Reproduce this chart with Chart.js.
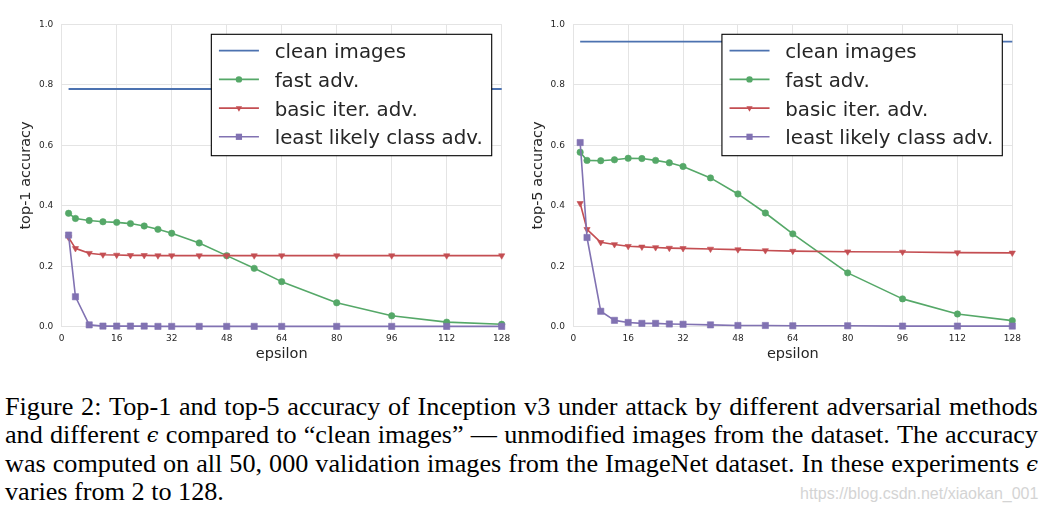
<!DOCTYPE html>
<html>
<head>
<meta charset="utf-8">
<script src="https://cdn.jsdelivr.net/npm/chart.js@4/dist/chart.umd.min.js"></script>
<style>
  html, body { margin: 0; padding: 0; background: #fff; }
  body { width: 1044px; height: 514px; position: relative; overflow: hidden; }
  canvas { position: absolute; top: 0; }
  #c1 { left: 0; }
  #c2 { left: 520px; }
  .cap { position: absolute; left: 5px; width: 1033px; font-family: "Liberation Serif", "Times New Roman", serif;
         font-size: 26.2px; line-height: 28.5px; color: #000; white-space: nowrap; }
  .cap.j { display: flex; justify-content: space-between; }
  .eps { font-family: "DejaVu Serif", serif; font-style: italic; font-size: 0.8em; }
  #wm { position: absolute; left: 800px; top: 486px; font-family: "Liberation Sans", Arial, sans-serif;
        font-size: 16px; line-height: 16px; color: #d4d4d4; white-space: nowrap; }
</style>
</head>
<body>
<canvas id="c1" width="520" height="370" style="width:520px;height:370px"></canvas>
<canvas id="c2" width="524" height="370" style="width:524px;height:370px"></canvas>
<div id="caption"></div>
<div id="wm">https://blog.csdn.net/xiaokan_001</div>
<script>
// ---------------- data ----------------
const epsilon = [2, 4, 8, 12, 16, 20, 24, 28, 32, 40, 48, 56, 64, 80, 96, 112, 128];
const xTicks = [0, 16, 32, 48, 64, 80, 96, 112, 128];
const yTicks = [0.0, 0.2, 0.4, 0.6, 0.8, 1.0];
const seriesLabels = ["clean images", "fast adv.", "basic iter. adv.", "least likely class adv."];

const top1Clean = [0.786, 0.786, 0.786, 0.786, 0.786, 0.786, 0.786, 0.786, 0.786, 0.786, 0.786, 0.786, 0.786, 0.786, 0.786, 0.786, 0.786];
const top1Fast  = [0.375, 0.358, 0.351, 0.347, 0.345, 0.341, 0.333, 0.322, 0.309, 0.277, 0.235, 0.193, 0.149, 0.079, 0.036, 0.015, 0.008];
const top1Basic = [0.295, 0.259, 0.243, 0.238, 0.237, 0.236, 0.236, 0.235, 0.235, 0.235, 0.235, 0.235, 0.235, 0.235, 0.235, 0.235, 0.235];
const top1Least = [0.303, 0.099, 0.006, 0.002, 0.002, 0.002, 0.002, 0.001, 0.001, 0.001, 0.001, 0.001, 0.001, 0.001, 0.001, 0.001, 0.001];

const top5Clean = [0.943, 0.943, 0.943, 0.943, 0.943, 0.943, 0.943, 0.943, 0.943, 0.943, 0.943, 0.943, 0.943, 0.943, 0.943, 0.943, 0.943];
const top5Fast  = [0.577, 0.550, 0.549, 0.552, 0.557, 0.556, 0.550, 0.542, 0.530, 0.492, 0.439, 0.376, 0.307, 0.178, 0.092, 0.042, 0.020];
const top5Basic = [0.408, 0.322, 0.279, 0.272, 0.266, 0.264, 0.262, 0.260, 0.259, 0.257, 0.255, 0.252, 0.250, 0.248, 0.247, 0.245, 0.244];
const top5Least = [0.609, 0.295, 0.051, 0.021, 0.014, 0.011, 0.011, 0.009, 0.008, 0.006, 0.004, 0.004, 0.003, 0.003, 0.002, 0.002, 0.002];

const captionLines = [
  "Figure 2: Top-1 and top-5 accuracy of Inception v3 under attack by different adversarial methods",
  "and different \u03F5 compared to \u201Cclean images\u201D \u2014 unmodified images from the dataset. The accuracy",
  "was computed on all 50, 000 validation images from the ImageNet dataset. In these experiments \u03F5",
  "varies from 2 to 128."
];

// ---------------- style ----------------
const COLORS = ["#4C72B0", "#55A868", "#C44E52", "#8172B2"];
const GRID = "#e4e4e4";
const TXT = "#262626";
Chart.defaults.font.family = "'DejaVu Sans', sans-serif";
Chart.defaults.color = TXT;

function pts(values) { return epsilon.map((e, i) => ({ x: e, y: values[i] })); }

function markerPath(ctx, style, x, y, r) {
  ctx.beginPath();
  if (style === 'circle') {
    ctx.arc(x, y, r, 0, Math.PI * 2);
  } else if (style === 'triDown') {
    ctx.moveTo(x, y + r);
    ctx.lineTo(x - 0.866 * r, y - 0.5 * r);
    ctx.lineTo(x + 0.866 * r, y - 0.5 * r);
    ctx.closePath();
  } else if (style === 'rect') {
    const s = r * Math.SQRT1_2;
    ctx.rect(x - s, y - s, 2 * s, 2 * s);
  }
}

const boxLegend = {
  id: 'boxLegend',
  afterDraw(chart) {
    const ctx = chart.ctx, ca = chart.chartArea;
    ctx.save();
    ctx.font = "19.8px 'DejaVu Sans'";
    const dsets = chart.data.datasets;
    let maxW = 0;
    dsets.forEach(d => { maxW = Math.max(maxW, ctx.measureText(d.label).width); });
    const w = 63.3 + maxW + 9;
    const h = 121.4;
    const x0 = ca.right - 10 - w, y0 = ca.top + 10;
    ctx.fillStyle = '#fff';
    ctx.fillRect(x0, y0, w, h);
    ctx.strokeStyle = '#000';
    ctx.lineWidth = 1.1;
    ctx.strokeRect(x0, y0, w, h);
    dsets.forEach((d, i) => {
      const y = y0 + 16.4 + i * 28.7;
      ctx.strokeStyle = d.borderColor;
      ctx.lineWidth = d.borderWidth;
      ctx.beginPath();
      ctx.moveTo(x0 + 7.6, y);
      ctx.lineTo(x0 + 47.6, y);
      ctx.stroke();
      if (d.legendMarker) {
        markerPath(ctx, d.legendMarker, x0 + 27.6, y, d.pointRadius);
        ctx.fillStyle = d.borderColor;
        ctx.fill();
      }
      ctx.fillStyle = TXT;
      ctx.textBaseline = 'alphabetic';
      ctx.textAlign = 'left';
      ctx.fillText(d.label, x0 + 63.3, y + 7.4);
    });
    ctx.restore();
  }
};

function makeChart(id, yTitle, clean, fast, basic, least, lay) {
  const common = { fill: false, tension: 0, clip: false, borderWidth: 1.6 };
  return new Chart(document.getElementById(id), {
    type: 'line',
    data: {
      datasets: [
        Object.assign({}, common, { label: seriesLabels[0], data: pts(clean), borderColor: COLORS[0], backgroundColor: COLORS[0],
          pointRadius: 0, borderWidth: 1.8, order: 4 }),
        Object.assign({}, common, { label: seriesLabels[1], data: pts(fast), borderColor: COLORS[1], backgroundColor: COLORS[1],
          pointStyle: 'circle', pointRadius: 3.2, pointBorderWidth: 0.6, pointBackgroundColor: COLORS[1], pointBorderColor: COLORS[1],
          legendMarker: 'circle', order: 3 }),
        Object.assign({}, common, { label: seriesLabels[2], data: pts(basic), borderColor: COLORS[2], backgroundColor: COLORS[2],
          pointStyle: 'triangle', rotation: 180, pointRadius: 3.6, pointBorderWidth: 0.6, pointBackgroundColor: COLORS[2], pointBorderColor: COLORS[2],
          legendMarker: 'triDown', order: 2 }),
        Object.assign({}, common, { label: seriesLabels[3], data: pts(least), borderColor: COLORS[3], backgroundColor: COLORS[3],
          pointStyle: 'rect', pointRadius: 4.4, pointBorderWidth: 0.6, pointBackgroundColor: COLORS[3], pointBorderColor: COLORS[3],
          legendMarker: 'rect', order: 1 })
      ]
    },
    options: {
      responsive: false,
      animation: false,
      devicePixelRatio: window.devicePixelRatio || 1,
      layout: { padding: { left: 0, right: lay.right, top: 24.3, bottom: 0 } },
      plugins: { legend: { display: false }, tooltip: { enabled: false } },
      elements: { line: { borderJoinStyle: 'round' } },
      scales: {
        x: {
          type: 'linear', min: 0, max: 128,
          afterFit(s) { s.height = 43.3; },
          afterBuildTicks(s) { s.ticks = xTicks.map(v => ({ value: v })); },
          ticks: { font: { size: 9 }, color: TXT, padding: 7, maxRotation: 0, callback: v => String(v) },
          grid: { color: GRID, lineWidth: 1, drawTicks: false },
          border: { color: GRID, width: 1 },
          title: { display: true, text: 'epsilon', font: { size: 14.5 }, color: TXT, padding: { top: 0, bottom: 6.8 } }
        },
        y: {
          type: 'linear', min: 0, max: 1,
          afterFit(s) { s.width = lay.yWidth; },
          afterBuildTicks(s) { s.ticks = yTicks.map(v => ({ value: v })); },
          ticks: { font: { size: 9 }, color: TXT, padding: 8.4, callback: v => Number(v).toFixed(1) },
          grid: { color: GRID, lineWidth: 1, drawTicks: false },
          border: { color: GRID, width: 1 },
          title: { display: true, text: yTitle, font: { size: 14.5 }, color: TXT, padding: { top: lay.titlePad, bottom: 0 } }
        }
      }
    },
    plugins: [boxLegend]
  });
}

makeChart('c1', 'top-1 accuracy', top1Clean, top1Fast, top1Basic, top1Least, { right: 18.3, yWidth: 61.7, titlePad: 18 });
makeChart('c2', 'top-5 accuracy', top5Clean, top5Fast, top5Basic, top5Least, { right: 31.7, yWidth: 53.3, titlePad: 9.6 });

// ---------------- caption ----------------
const capEl = document.getElementById('caption');
captionLines.forEach((line, i) => {
  const div = document.createElement('div');
  div.className = 'cap' + (i < captionLines.length - 1 ? ' j' : '');
  div.style.top = (392.5 + i * 28.5) + 'px';
  const words = line.split(' ');
  if (i < captionLines.length - 1) {
    words.forEach(wd => {
      const sp = document.createElement('span');
      if (wd === '\u03F5') { sp.className = 'eps'; }
      sp.textContent = wd;
      div.appendChild(sp);
    });
  } else {
    div.textContent = line;
  }
  capEl.appendChild(div);
});
</script>
</body>
</html>
